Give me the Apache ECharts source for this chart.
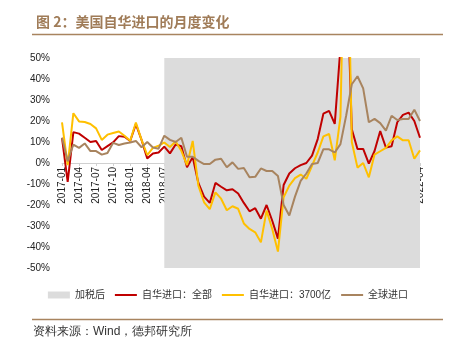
<!DOCTYPE html>
<html>
<head>
<meta charset="utf-8">
<script src="https://cdn.jsdelivr.net/npm/echarts@6/dist/echarts.min.js"></script>
<style>
  html, body { margin: 0; padding: 0; background: #fff; }
  #main { width: 456px; height: 352px; }
</style>
</head>
<body>
<div id="main"></div>
<script>
// 月份 2017-01 ~ 2022-04
const months = [
  '2017-01','2017-02','2017-03','2017-04','2017-05','2017-06','2017-07','2017-08','2017-09','2017-10','2017-11','2017-12',
  '2018-01','2018-02','2018-03','2018-04','2018-05','2018-06','2018-07','2018-08','2018-09','2018-10','2018-11','2018-12',
  '2019-01','2019-02','2019-03','2019-04','2019-05','2019-06','2019-07','2019-08','2019-09','2019-10','2019-11','2019-12',
  '2020-01','2020-02','2020-03','2020-04','2020-05','2020-06','2020-07','2020-08','2020-09','2020-10','2020-11','2020-12',
  '2021-01','2021-02','2021-03','2021-04','2021-05','2021-06','2021-07','2021-08','2021-09','2021-10','2021-11','2021-12',
  '2022-01','2022-02','2022-03','2022-04'
];
// 自华进口：全部
const chinaAll = [
  12, -9, 14.7, 14, 12, 10, 10.5, 6.2, 8, 9.8, 12.8, 12.5,
  10.5, 18.5, 11, 2.2, 4.5, 5, 7.8, 4.6, 8.8, 8, -2, 2.8,
  -9.5, -16, -19, -9.5, -11.3, -13, -12.5, -14.5, -19, -23, -21.5, -26.5,
  -20, -27.5, -36, -10.5, -5, -2.5, -1, 0, 3.5, 11.4, 23.5, 24.8,
  18.6, 55, 100, 16, 6.7, 6.7, -0.3, 5.7, 15.2, 7.4, 8, 19.4,
  22.9, 24, 20, 12
];
// 自华进口：3700亿
const china3700 = [
  19.3, -1, 23.7, 19.8, 19.5, 18.6, 16.5, 11, 13.5, 14.3, 15, 13,
  10.6, 19.3, 11, 3.8, 7.2, 8.2, 9.8, 7.6, 10.2, 5.8, -1, 10.5,
  -10.8, -18.7, -22, -14, -17, -22.5, -20.6, -21.8, -28.8, -31.4, -33, -37.8,
  -22.7, -31.4, -42.2, -16.3, -10.8, -7.2, -5.5, -7.5, -1.3, 5, 12.7, 13.8,
  1.3, 22, 150, 10, -2.2, 0, -6.8, 4, 5.6, 7.2, 10.8, 12.7,
  10.8, 10.8, 2, 6
];
// 全球进口
const worldAll = [
  12, 0.8, 8.8, 7.2, 9.3, 5.7, 5.7, 4, 4.8, 9.6, 8.6, 9.3,
  9.8, 10.5, 7.5, 10, 7.4, 6.8, 13, 11, 10, 12, 3, 3,
  1, -0.5, -0.5, 1.6, 2, -2, 0.3, -2.8, -2.4, -6.8, -6.6, -2.6,
  -3.8, -3.8, -6.2, -20, -25, -16, -8.5, -5, -0.5, 0, 6.6, 6.5,
  5, 9, 22.5, 37.5, 41.3, 35.5, 19.4, 21, 19, 15.4, 22.5, 20.5,
  21, 21, 25.4, 20
];
const tariffStart = '2018-07';
const tariffEnd = '2022-04';

const brown = '#a8845f';
const numFont = '"Liberation Sans", Arial, "Noto Sans CJK SC", sans-serif';
const cjkFont = '"Noto Sans CJK SC", sans-serif';
// 图例里的细线
const lineIcon = 'path://M0,0H110V10H0Z';

const myChart = echarts.init(document.getElementById('main'));

// 横轴放在 0% 处：grid 高 210，向上偏移一半
const gridTop = 58, gridBottom = 84;
const zeroOffset = -(352 - gridTop - gridBottom) / 2;

const option = {
  animation: false,
  title: {
    text: '图 2：美国自华进口的月度变化',
    left: 31,
    top: 10,
    textStyle: { fontSize: 14, fontWeight: 'bold', color: '#a07c58', fontFamily: cjkFont }
  },
  legend: {
    top: 285,
    left: 'center',
    itemWidth: 22,
    itemHeight: 7,
    itemGap: 10,
    textStyle: { fontSize: 10, color: '#333', fontFamily: numFont },
    data: [
      { name: '加税后', icon: 'rect' },
      { name: '自华进口：全部', icon: lineIcon },
      { name: '自华进口：3700亿', icon: lineIcon },
      { name: '全球进口', icon: lineIcon }
    ]
  },
  grid: { left: 62, right: 36, top: gridTop, bottom: gridBottom },
  xAxis: {
    type: 'category',
    boundaryGap: false,
    data: months,
    position: 'bottom',
    offset: zeroOffset,
    axisLine: { onZero: false, lineStyle: { color: '#d0d0d0' } },
    axisTick: { show: true, interval: 2, length: 3, lineStyle: { color: '#d0d0d0' } },
    axisLabel: { interval: 2, rotate: 90, fontSize: 10, color: '#222', margin: 4, fontFamily: numFont },
    splitLine: { show: false }
  },
  yAxis: {
    type: 'value',
    min: -50,
    max: 50,
    interval: 10,
    axisLine: { show: false },
    axisTick: { show: false },
    splitLine: { show: false },
    axisLabel: { formatter: '{value}%', fontSize: 10, color: '#222', margin: 12, fontFamily: numFont }
  },
  graphic: [
    { type: 'line', shape: { x1: 32, y1: 34.5, x2: 443, y2: 34.5 }, style: { stroke: brown, lineWidth: 1.5 } },
    { type: 'line', shape: { x1: 32, y1: 319.5, x2: 443, y2: 319.5 }, style: { stroke: brown, lineWidth: 1.5 } },
    {
      type: 'text', left: 33, top: 326,
      style: { text: '资料来源：Wind，德邦研究所', fontSize: 12, fill: '#333', font: '12px ' + numFont }
    }
  ],
  series: [
    {
      name: '加税后',
      type: 'line',
      data: [],
      color: '#dcdcdc',
      itemStyle: { color: '#dcdcdc' },
      markArea: {
        silent: true,
        itemStyle: { color: '#dcdcdc' },
        data: [[{ xAxis: tariffStart }, { xAxis: tariffEnd }]]
      }
    },
    {
      name: '自华进口：全部',
      type: 'line',
      data: chinaAll,
      symbol: 'none',
      color: '#c00000',
      itemStyle: { color: '#c00000' },
      lineStyle: { width: 2, color: '#c00000' }
    },
    {
      name: '自华进口：3700亿',
      type: 'line',
      data: china3700,
      symbol: 'none',
      color: '#ffc000',
      itemStyle: { color: '#ffc000' },
      lineStyle: { width: 2, color: '#ffc000' }
    },
    {
      name: '全球进口',
      type: 'line',
      data: worldAll,
      symbol: 'none',
      color: brown,
      itemStyle: { color: brown },
      lineStyle: { width: 2, color: brown }
    }
  ]
};

myChart.setOption(option);
</script>
</body>
</html>
